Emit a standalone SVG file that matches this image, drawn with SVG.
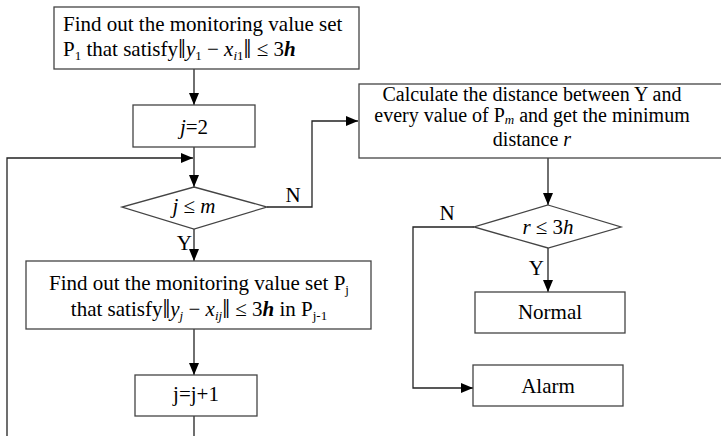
<svg xmlns="http://www.w3.org/2000/svg" width="721" height="436" viewBox="0 0 721 436">
<style>
.box{fill:#fff;stroke:#444;stroke-width:1.3}
.ln{fill:none;stroke:#222;stroke-width:1.3}
text{font-family:"Liberation Serif","Times New Roman",serif;font-size:21px;fill:#000}
.c{text-anchor:middle}
.e{text-anchor:end}
.i{font-style:italic}
.bi{font-style:italic;font-weight:bold}
.s{font-size:13px}
.sm{font-size:20px}
.bar{font-size:28px}
</style>
<defs>
<marker id="ah" markerWidth="12" markerHeight="10" refX="12" refY="5" orient="auto" markerUnits="userSpaceOnUse">
<path d="M0,0 L12,5 L0,10 Z" fill="#000"/>
</marker>
</defs>
<rect width="721" height="436" fill="#fff"/>
<g id="connectors">
<path class="ln" d="M194,69 V105" marker-end="url(#ah)"/>
<path class="ln" d="M194,147 V187" marker-end="url(#ah)"/>
<path class="ln" d="M194,416 V442 H7 V158 H193" marker-end="url(#ah)"/>
<path class="ln" d="M194,229 V261" marker-end="url(#ah)"/>
<path class="ln" d="M194,329 V375" marker-end="url(#ah)"/>
<path class="ln" d="M267,207 H312 V121 H358" marker-end="url(#ah)"/>
<path class="ln" d="M548,158 V205" marker-end="url(#ah)"/>
<path class="ln" d="M548,248 V292" marker-end="url(#ah)"/>
<path class="ln" d="M474,227 H413 V388 H473" marker-end="url(#ah)"/>
<text x="293" y="202" class="c">N</text>
<text x="192" y="250" class="e">Y</text>
<text x="447" y="220" class="c">N</text>
<text x="544" y="275" class="e">Y</text>
</g>
<g id="n1">
<rect class="box" x="54" y="7" width="305" height="62"/>
<text x="63" y="31">Find out the monitoring value set</text>
<text x="63" y="56">P<tspan class="s" dy="4">1</tspan><tspan dy="-4"> that satisfy</tspan><tspan class="bar" dy="2">‖</tspan><tspan class="i" dy="-2">y</tspan><tspan class="s" dy="4">1</tspan><tspan dy="-4"> − </tspan><tspan class="i">x</tspan><tspan class="s i" dy="4">i</tspan><tspan class="s">1</tspan><tspan class="bar" dy="-2">‖</tspan><tspan dy="-2"> ≤ 3</tspan><tspan class="bi">h</tspan></text>
</g>
<g id="n2">
<rect class="box" x="133" y="105" width="122" height="42"/>
<text x="194" y="134" class="c"><tspan class="i">j</tspan>=2</text>
</g>
<g id="n3">
<polygon class="box" points="194,187 267,207 194,229 122,207"/>
<text x="194" y="213" class="c"><tspan class="i">j</tspan> ≤ <tspan class="i">m</tspan></text>
</g>
<g id="n4">
<rect class="box" x="26" y="261" width="345" height="68"/>
<text x="199" y="290" class="c">Find out the monitoring value set P<tspan class="s" dy="4">j</tspan></text>
<text x="199" y="316" class="c">that satisfy<tspan class="bar" dy="2">‖</tspan><tspan class="i" dy="-2">y</tspan><tspan class="s i" dy="4">j</tspan><tspan dy="-4"> − </tspan><tspan class="i">x</tspan><tspan class="s i" dy="4">ij</tspan><tspan class="bar" dy="-2">‖</tspan><tspan dy="-2"> ≤ 3</tspan><tspan class="bi">h</tspan> in P<tspan class="s" dy="4">j-1</tspan></text>
</g>
<g id="n5">
<rect class="box" x="135" y="375" width="122" height="41"/>
<text x="196" y="401" class="c">j=j+1</text>
</g>
<g id="n6">
<rect class="box" x="359" y="84" width="370" height="74"/>
<text x="532" y="101" class="c sm">Calculate the distance between Y and</text>
<text x="532" y="122" class="c sm">every value of P<tspan class="s i" dy="2">m</tspan><tspan dy="-2"> and get the minimum</tspan></text>
<text x="532" y="146" class="c sm">distance <tspan class="i">r</tspan></text>
</g>
<g id="n7">
<polygon class="box" points="548,205 621,227 548,248 474,227"/>
<text x="548" y="234" class="c"><tspan class="i">r</tspan> ≤ 3<tspan class="i">h</tspan></text>
</g>
<g id="n8">
<rect class="box" x="475" y="292" width="150" height="41"/>
<text x="550" y="319" class="c">Normal</text>
</g>
<g id="n9">
<rect class="box" x="473" y="365" width="150" height="41"/>
<text x="548" y="393" class="c">Alarm</text>
</g>
</svg>
